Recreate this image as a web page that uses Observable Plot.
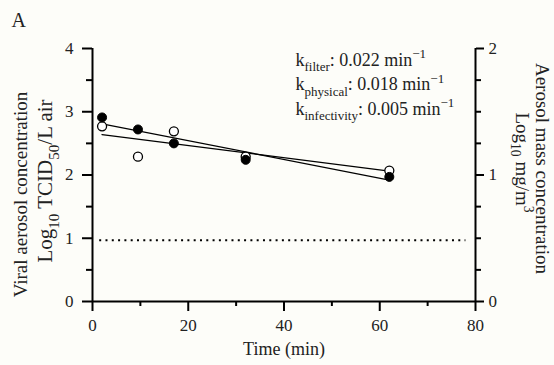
<!DOCTYPE html>
<html><head><meta charset="utf-8">
<script src="https://cdn.jsdelivr.net/npm/d3@7"></script>
<script src="https://cdn.jsdelivr.net/npm/@observablehq/plot@0.6"></script>
<style>
html,body{margin:0;padding:0;background:#fdfdf9;}
svg{display:block;}
</style></head><body><div id="chart"></div>
<script>
// ---- data ----
const timeMin = [2, 9.5, 17, 32, 62];
const filledValues = [2.91, 2.72, 2.50, 2.24, 1.97];   // filled circles
const openValues = [2.77, 2.29, 2.69, 2.29, 2.07];     // open circles
const fitTime = [2, 62];
const filledFit = [2.81, 1.92];
const openFit = [2.64, 2.06];
const detectionLimit = 0.97;
const limitSpan = [1.5, 78];
const xMajorTicks = [0, 20, 40, 60, 80];
const xMinorTicks = [10, 30, 50, 70];
const yMajorTicks = [0, 1, 2, 3, 4];
const yMinorTicks = [0.5, 1.5, 2.5, 3.5];
const rightMajorTicks = [0, 1, 2];          // aerosol mass axis, log10 mg/m3
const rightMinorTicks = [0.25, 0.5, 0.75, 1.25, 1.5, 1.75];
const rightToLeft = 2;                       // right axis 0–2 maps onto left 0–4
const annotations = [
  "k_{filter}: 0.022 min^{−1}",
  "k_{physical}: 0.018 min^{−1}",
  "k_{infectivity}: 0.005 min^{−1}"
];
const panelLabel = "A";
const xTitle = "Time (min)";
const leftTitle = ["Viral aerosol concentration", "Log_{10} TCID_{50}/L air"];
const rightTitle = ["Aerosol mass concentration", "Log_{10} mg/m^{3}"];

const filled = timeMin.map((t, i) => ({t, v: filledValues[i]}));
const open = timeMin.map((t, i) => ({t, v: openValues[i]}));
const fitF = fitTime.map((t, i) => ({t, v: filledFit[i]}));
const fitO = fitTime.map((t, i) => ({t, v: openFit[i]}));

const serif = "'Liberation Serif', 'DejaVu Serif', serif";
const ink = "#222";

const plot = Plot.plot({
  width: 554, height: 365,
  marginLeft: 92, marginRight: 79, marginTop: 48, marginBottom: 64,
  style: {fontFamily: serif, fontSize: "17px", background: "transparent", color: ink},
  x: {domain: [0, 80]},
  y: {domain: [0, 4]},
  marks: [
    // axes lines
    Plot.ruleY([0], {strokeWidth: 2, stroke: "#000"}),
    Plot.ruleX([0], {strokeWidth: 2, stroke: "#000"}),
    Plot.ruleX([80], {strokeWidth: 2, stroke: "#000"}),
    // x axis
    Plot.axisX({ticks: xMajorTicks, tickSize: 10, tickPadding: 7, strokeWidth: 2, stroke: "#000", label: null, fill: ink, fontSize: 17, tickFormat: d => d}),
    Plot.axisX({ticks: xMinorTicks, tickSize: 5, strokeWidth: 2, stroke: "#000", label: null, tickFormat: () => ""}),
    // left y axis
    Plot.axisY({ticks: yMajorTicks, tickSize: 10, tickPadding: 9, strokeWidth: 2, stroke: "#000", label: null, fill: ink, fontSize: 17, tickFormat: d => d}),
    Plot.axisY({ticks: yMinorTicks, tickSize: 6, strokeWidth: 2, stroke: "#000", label: null, tickFormat: () => ""}),
    // right y axis
    Plot.axisY({anchor: "right", ticks: rightMajorTicks.map(d => d * rightToLeft), tickSize: 8, tickPadding: 5, strokeWidth: 2, stroke: "#000", label: null, fill: ink, fontSize: 17, tickFormat: d => d / rightToLeft}),
    Plot.axisY({anchor: "right", ticks: rightMinorTicks.map(d => d * rightToLeft), tickSize: 5, strokeWidth: 2, stroke: "#000", label: null, tickFormat: () => ""}),
    // detection limit
    Plot.ruleY([detectionLimit], {x1: limitSpan[0], x2: limitSpan[1], stroke: "#000", strokeWidth: 2, strokeDasharray: "2,4.3"}),
    // fits
    Plot.line(fitF, {x: "t", y: "v", stroke: "#000", strokeWidth: 1.3}),
    Plot.line(fitO, {x: "t", y: "v", stroke: "#000", strokeWidth: 1.3}),
    // points
    Plot.dot(open, {x: "t", y: "v", r: 4.5, fill: "#fff", stroke: "#000", strokeWidth: 1.3}),
    Plot.dot(filled, {x: "t", y: "v", r: 4.5, fill: "#000", stroke: "#000", strokeWidth: 1}),
    // annotations
    ...annotations.map((s, i) => Plot.text([s], {frameAnchor: "top-left", text: d => d, textAnchor: "start", dx: 203, dy: 4.5 + i * 24.5, fontSize: 18, fill: ink})),
    // panel label
    Plot.text([panelLabel], {frameAnchor: "top-left", text: d => d, textAnchor: "start", dx: -81, dy: -36, fontSize: 20, fill: ink}),
    // axis titles
    Plot.text([xTitle], {frameAnchor: "bottom", text: d => d, textAnchor: "middle", dy: 53, fontSize: 18, fill: ink}),
    Plot.text([leftTitle[0]], {frameAnchor: "left", text: d => d, textAnchor: "middle", rotate: -90, dx: -72, dy: 19.5, fontSize: 19, fill: ink}),
    Plot.text([leftTitle[1]], {frameAnchor: "left", text: d => d, textAnchor: "middle", rotate: -90, dx: -47, dy: 6, fontSize: 21, fill: ink}),
    Plot.text([rightTitle[0]], {frameAnchor: "right", text: d => d, textAnchor: "middle", rotate: 90, dx: 67, dy: -6.5, fontSize: 19, fill: ink}),
    Plot.text([rightTitle[1]], {frameAnchor: "right", text: d => d, textAnchor: "middle", rotate: 90, dx: 47, dy: -12.5, fontSize: 19, fill: ink})
  ]
});
document.getElementById("chart").appendChild(plot);

// turn _{..} and ^{..} into sub/superscript tspans
function richify(root) {
  root.querySelectorAll("text").forEach(t => {
    const s = t.textContent;
    if (!/[_^]\{/.test(s)) return;
    const fs = parseFloat(getComputedStyle(t).fontSize) || 16;
    while (t.firstChild) t.removeChild(t.firstChild);
    const re = /([_^])\{([^}]*)\}/g;
    let last = 0, m, shift = 0;
    const add = (txt, kind) => {
      const ts = document.createElementNS("http://www.w3.org/2000/svg", "tspan");
      ts.textContent = txt;
      const target = kind === "_" ? fs * 0.3 : kind === "^" ? -fs * 0.42 : 0;
      const d = target - shift;
      if (d) ts.setAttribute("dy", d.toFixed(2));
      shift = target;
      if (kind) ts.setAttribute("font-size", (fs * 0.72).toFixed(1));
      t.appendChild(ts);
    };
    while ((m = re.exec(s))) {
      if (m.index > last) add(s.slice(last, m.index), null);
      add(m[2], m[1]);
      last = re.lastIndex;
    }
    if (last < s.length) add(s.slice(last), null);
  });
}
richify(plot);
</script>
</body></html>
